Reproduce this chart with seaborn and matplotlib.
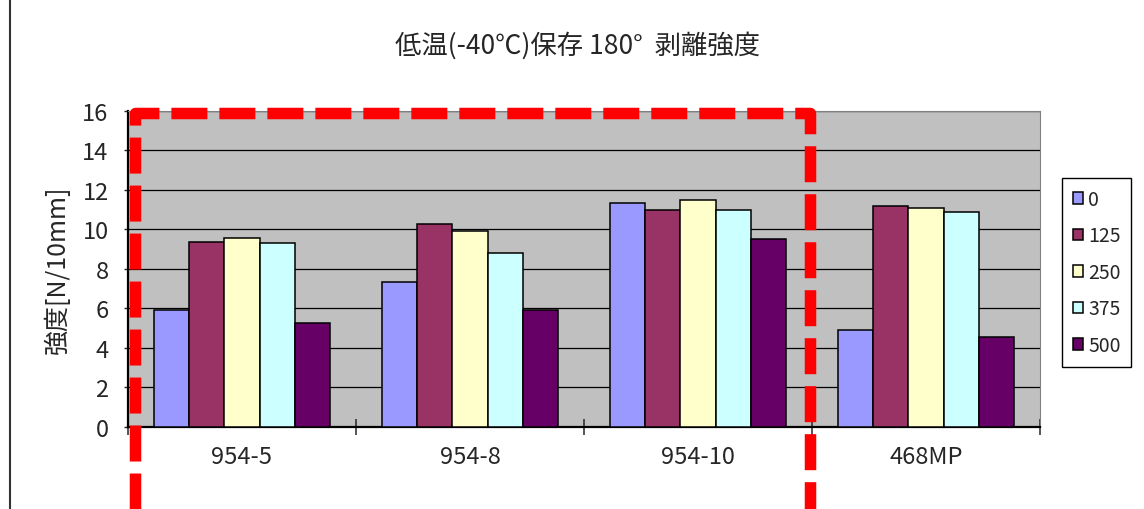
import matplotlib
matplotlib.use("Agg")
import matplotlib.pyplot as plt
from matplotlib.lines import Line2D
from matplotlib.patches import Patch
import seaborn as sns
import pandas as pd

# Samples and storage-time levels
samples = ["954-5", "954-8", "954-10", "468MP"]
levels = ["0", "125", "250", "375", "500"]

# Peel strength [N/10mm] per level, one value per sample
strength_0 = [5.9, 7.35, 11.35, 4.9]
strength_125 = [9.35, 10.25, 11.0, 11.2]
strength_250 = [9.55, 9.9, 11.5, 11.1]
strength_375 = [9.3, 8.8, 11.0, 10.9]
strength_500 = [5.25, 5.9, 9.5, 4.55]

level_colors = ["#9999FF", "#993366", "#FFFFCC", "#CCFFFF", "#660066"]

series = [strength_0, strength_125, strength_250, strength_375, strength_500]
rows = []
for lvl, vals in zip(levels, series):
    for s, v in zip(samples, vals):
        rows.append({"sample": s, "level": lvl, "strength": v})
df = pd.DataFrame(rows)

sns.set_style("white")
plt.rcParams["font.family"] = ["Noto Sans CJK JP", "DejaVu Sans"]

fig = plt.figure(figsize=(11.44, 5.10), dpi=100)
ax = fig.add_axes([128 / 1144, 82 / 510, 912 / 1144, 316.3 / 510])
ax.set_facecolor("#C0C0C0")

sns.barplot(data=df, x="sample", y="strength", hue="level",
            order=samples, hue_order=levels, palette=level_colors,
            saturation=1, width=0.77, edgecolor="black", linewidth=1.1,
            errorbar=None, legend=False, ax=ax, zorder=3)

ax.set_xlim(-0.5, len(samples) - 0.5)
ax.set_ylim(0, 16)
ax.set_yticks(range(0, 17, 2))
ax.set_xlabel("")
ax.set_ylabel("強度[N/10mm]", fontsize=18, labelpad=8)

# horizontal gridlines
ax.set_axisbelow(True)
ax.yaxis.grid(True, color="black", linewidth=0.9)
ax.xaxis.grid(False)

for side in ("top", "right"):
    ax.spines[side].set_color("#808080")
    ax.spines[side].set_linewidth(0.8)
for side in ("left", "bottom"):
    ax.spines[side].set_color("black")
    ax.spines[side].set_linewidth(1.6)

ax.tick_params(axis="y", direction="out", length=3, width=1, pad=11,
               labelsize=17, left=True)
ax.tick_params(axis="x", which="major", length=0, pad=13, labelsize=17)
ax.set_xticks([i - 0.5 for i in range(len(samples) + 1)], minor=True)
ax.tick_params(axis="x", which="minor", direction="inout", length=11,
               width=1.1, bottom=True)

# legend
handles = [Patch(facecolor=c, edgecolor="black", linewidth=1.1) for c in level_colors]
leg = fig.legend(handles, levels, loc="upper left",
                 bbox_to_anchor=(1062 / 1144, 1 - 179 / 510),
                 fontsize=14, frameon=True, fancybox=False, framealpha=1,
                 edgecolor="black", handlelength=0.55, handleheight=0.55,
                 handletextpad=0.25, labelspacing=0.8, borderpad=0.55,
                 borderaxespad=0)
leg.get_frame().set_linewidth(1.0)

# title
fig.text(578 / 1144, 1 - 46 / 510, "低温(-40℃)保存 180°  剥離強度",
         ha="center", va="center", fontsize=19)

# dashed highlight around the first three samples
frame_left = -0.5 + 0.031
frame_right = 2.5 - 0.009
frame_top = 15.89
frame_bottom = -4.74
hl = Line2D([frame_left, frame_left, frame_right, frame_right],
            [frame_bottom, frame_top, frame_top, frame_bottom],
            color="#FF0000", linewidth=8.28,
            linestyle=(4.087, (3.13, 1.043)),
            dash_joinstyle="round", dash_capstyle="butt",
            clip_on=False, zorder=10)
ax.add_line(hl)

# left border of the sheet
fig.add_artist(Line2D([9.5 / 1144, 9.5 / 1144], [0, 1], color="#333333",
                      linewidth=1.5, transform=fig.transFigure))

fig.savefig("out.png", dpi=100)
